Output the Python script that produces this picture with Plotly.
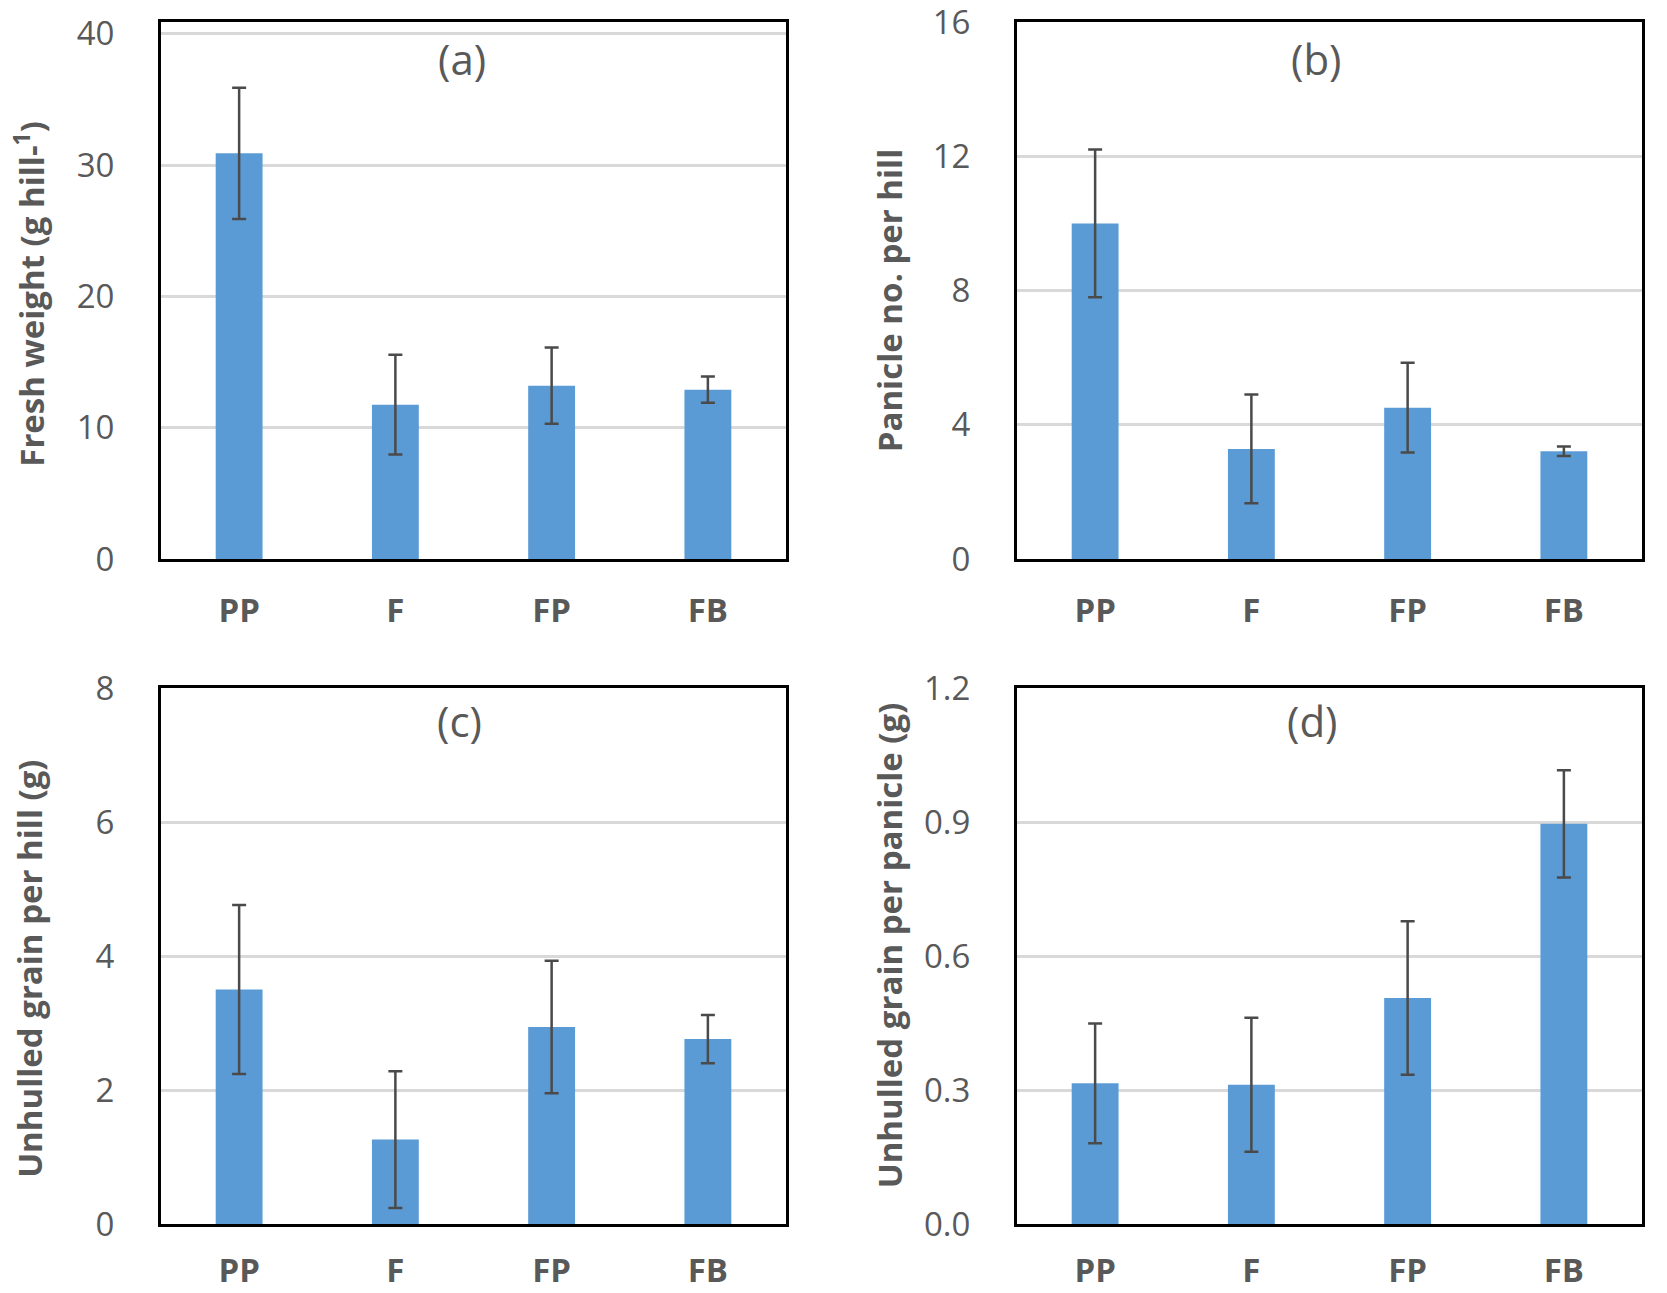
import plotly.graph_objects as go
from plotly.subplots import make_subplots

# Tratamientos
tratamientos = ["PP", "F", "FP", "FB"]

# (a) peso fresco (g hill-1)
peso_fresco = [30.9, 11.75, 13.2, 12.9]
peso_fresco_err = [5.0, 3.8, 2.9, 1.0]

# (b) panículas por hill
paniculas = [10.0, 3.28, 4.51, 3.21]
paniculas_err = [2.2, 1.62, 1.34, 0.14]

# (c) grano sin descascarar por hill (g)
grano_hill = [3.5, 1.26, 2.94, 2.76]
grano_hill_err = [1.26, 1.02, 0.99, 0.36]

# (d) grano sin descascarar por panícula (g)
grano_panicula = [0.315, 0.312, 0.506, 0.896]
grano_panicula_err = [0.134, 0.15, 0.172, 0.12]

AZUL = "#5B9BD5"
GRIS_TEXTO = "#595959"
FUENTE = "Open Sans"

W, H = 1667, 1293

fig = make_subplots(rows=2, cols=2)

paneles = [
    (1, 1, peso_fresco, peso_fresco_err, "Fresh weight (g hill-<sup>1</sup>)", [0, 40.9], 10, None, "(a)"),
    (1, 2, paniculas, paniculas_err, "Panicle no. per hill", [0, 16], 4, None, "(b)"),
    (2, 1, grano_hill, grano_hill_err, "Unhulled grain per hill (g)", [0, 8], 2, None, "(c)"),
    (2, 2, grano_panicula, grano_panicula_err, "Unhulled grain per panicle (g)", [0, 1.2], 0.3, ".1f", "(d)"),
]

# dominios en pixeles medidos del original
dom_x = {1: (161 / W, 786 / W), 2: (1017 / W, 1642 / W)}
dom_y = {1: (1 - 559 / H, 1 - 22 / H), 2: (1 - 1224 / H, 1 - 688 / H)}
titulo_x = {1: 30 / W, 2: 889 / W}
titulo_y = {(1, 1): 0.494, (1, 2): 0.48, (2, 1): 0.476, (2, 2): 0.52}
etiqueta_x = {(1, 1): 0.482, (1, 2): 0.478, (2, 1): 0.477, (2, 2): 0.472}
etiqueta_y = {1: 0.932, 2: 0.94}
separacion_x = {1: 20, 2: 15}

for fila, col, valores, errores, titulo, rango, paso, formato, etiqueta in paneles:
    fig.add_trace(
        go.Bar(
            x=tratamientos,
            y=valores,
            width=0.3,
            marker=dict(color=AZUL, line=dict(width=0)),
            error_y=dict(
                type="data",
                array=errores,
                visible=True,
                color="#4a4a4a",
                thickness=2.5,
                width=7,
            ),
            showlegend=False,
        ),
        row=fila,
        col=col,
    )

    fig.update_xaxes(
        domain=dom_x[col],
        automargin=False,
        showline=True,
        mirror=True,
        linecolor="black",
        linewidth=3,
        showgrid=False,
        ticks="",
        ticklabelstandoff=separacion_x[fila],
        ticklabeloverflow="allow",
        tickfont=dict(family=FUENTE, size=33, color=GRIS_TEXTO, weight="bold"),
        row=fila,
        col=col,
    )
    fig.update_yaxes(
        domain=dom_y[fila],
        automargin=False,
        range=rango,
        dtick=paso,
        tick0=0,
        tickformat=formato,
        showline=True,
        mirror=True,
        linecolor="black",
        linewidth=3,
        showgrid=True,
        gridcolor="#d9d9d9",
        gridwidth=2.5,
        zeroline=False,
        ticks="",
        ticklabelstandoff=37,
        ticklabeloverflow="allow",
        tickfont=dict(family=FUENTE, size=33, color=GRIS_TEXTO),
        row=fila,
        col=col,
    )

    num = (fila - 1) * 2 + col
    sufijo = "" if num == 1 else str(num)

    fig.add_annotation(
        text=titulo,
        textangle=-90,
        xref="paper",
        x=titulo_x[col],
        yref=f"y{sufijo} domain",
        y=titulo_y[(fila, col)],
        xanchor="center",
        yanchor="middle",
        showarrow=False,
        font=dict(family=FUENTE, size=33, color=GRIS_TEXTO, weight="bold"),
    )
    fig.add_annotation(
        text=etiqueta,
        xref=f"x{sufijo} domain",
        x=etiqueta_x[(fila, col)],
        yref=f"y{sufijo} domain",
        y=etiqueta_y[fila],
        xanchor="center",
        yanchor="middle",
        showarrow=False,
        font=dict(family=FUENTE, size=42, color=GRIS_TEXTO),
    )

fig.update_layout(
    width=W,
    height=H,
    margin=dict(l=0, r=0, t=0, b=0),
    paper_bgcolor="white",
    plot_bgcolor="white",
    bargap=0.7,
)

fig.write_html(
    "out.html",
    config={"displayModeBar": False},
    post_script="document.body.style.margin='0';document.body.style.overflow='hidden';",
)
